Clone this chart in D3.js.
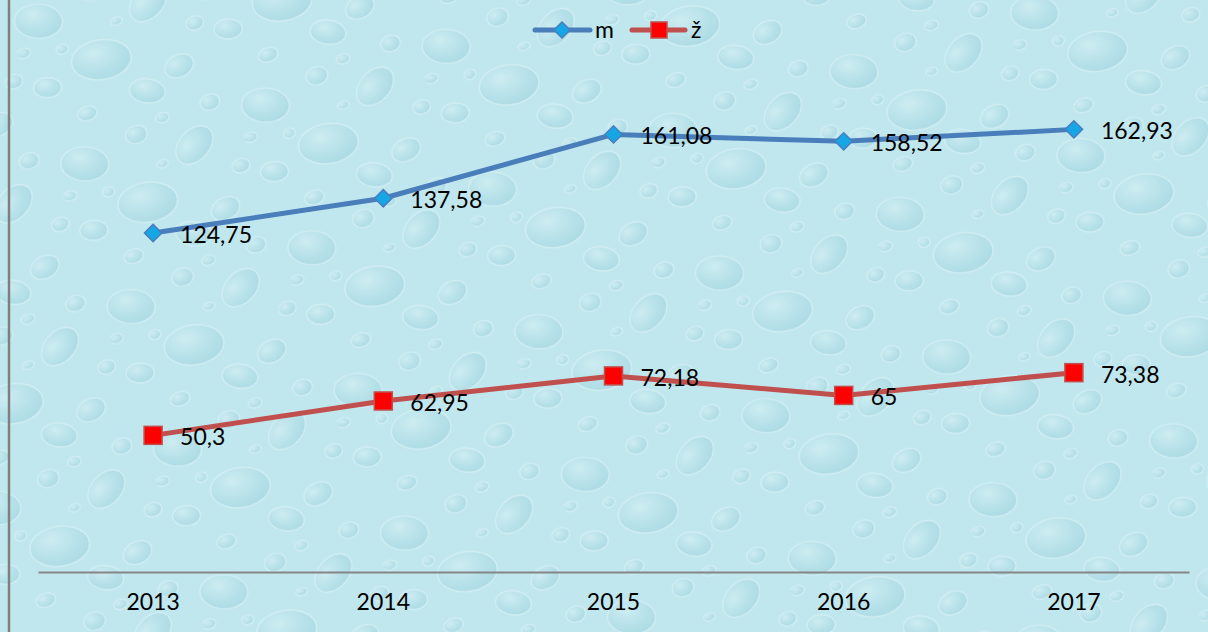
<!DOCTYPE html>
<html>
<head>
<meta charset="utf-8">
<script src="https://cdn.jsdelivr.net/npm/d3@7"></script>
<style>
  body { margin: 0; background: #fff; }
  svg text { font-family: Lato, "Open Sans", sans-serif; fill: #000; }
</style>
</head>
<body>
<div id="chart"></div>
<script>
var years = ["2013", "2014", "2015", "2016", "2017"];
var valuesM = [124.75, 137.58, 161.08, 158.52, 162.93];
var valuesZ = [50.3, 62.95, 72.18, 65, 73.38];
var seriesNames = ["m", "ž"];

var width = 1208, height = 632;
var margin = {top: 83, right: 19, bottom: 60, left: 38};

var svg = d3.select("#chart").append("svg")
	.attr("width", width)
	.attr("height", height);

// droplet texture (decoration only)
var defs = svg.append("defs");
var grad = defs.append("radialGradient").attr("id", "drop")
	.attr("cx", "38%").attr("cy", "32%").attr("r", "70%");
grad.append("stop").attr("offset", "0%").attr("stop-color", "#d6f1f5");
grad.append("stop").attr("offset", "60%").attr("stop-color", "#b0dde6");
grad.append("stop").attr("offset", "100%").attr("stop-color", "#9dd1dd");

var pat = defs.append("pattern").attr("id", "water")
	.attr("patternUnits", "userSpaceOnUse")
	.attr("patternTransform", "rotate(-18)")
	.attr("width", 190).attr("height", 150);
pat.append("rect").attr("width", 190).attr("height", 150).attr("fill", "#c0e7ee");
var drops = [
	[30, 32, 24, 17, 20], [88, 20, 11, 9, 0], [140, 48, 22, 15, -30], [18, 98, 14, 10, 15],
	[78, 88, 30, 20, 10], [150, 118, 15, 11, -10], [118, 12, 7, 5, 0], [48, 135, 10, 7, 0],
	[178, 82, 9, 7, 0], [6, 58, 7, 5, 0], [104, 56, 6, 4, 0], [44, 66, 6, 5, 0],
	[112, 132, 18, 12, 25], [168, 12, 10, 8, 0]
];
pat.selectAll("ellipse").data(drops).enter().append("ellipse")
	.attr("cx", function(d) { return d[0]; })
	.attr("cy", function(d) { return d[1]; })
	.attr("rx", function(d) { return d[2]; })
	.attr("ry", function(d) { return d[3]; })
	.attr("transform", function(d) { return "rotate(" + d[4] + "," + d[0] + "," + d[1] + ")"; })
	.attr("fill", "url(#drop)")
	.attr("stroke", "#e3f6f8")
	.attr("stroke-width", 1.2)
	.attr("opacity", 0.55);

svg.append("rect")
	.attr("x", 0).attr("y", 0)
	.attr("width", width).attr("height", height)
	.attr("fill", "url(#water)");

// left border
svg.append("line")
	.attr("x1", 9).attr("x2", 9)
	.attr("y1", 0).attr("y2", height)
	.attr("stroke", "#7f7f7f")
	.attr("stroke-width", 2.5);

var plotW = width - margin.left - margin.right;
var plotH = 572 - margin.top;

var g = svg.append("g")
	.attr("transform", "translate(" + margin.left + "," + margin.top + ")");

var x = d3.scaleBand().domain(years).range([0, plotW]);
var y = d3.scaleLinear().domain([0, 180]).range([plotH, 0]);

function cx(d, i) { return x(years[i]) + x.bandwidth() / 2; }

// AXIS
var xAxis = g.append("g")
	.attr("transform", "translate(0," + plotH + ")")
	.call(d3.axisBottom(x).tickSize(0).tickPadding(22));
xAxis.select(".domain").attr("stroke", "#868686").attr("stroke-width", 2);
xAxis.selectAll("text")
	.style("font-size", "23px")
	.style("font-family", "Lato, 'Open Sans', sans-serif");

var line = d3.line()
	.x(cx)
	.y(function(d) { return y(d); });

var blue = "#4a7ebb", red = "#c0504d";

// male
g.append("path")
	.datum(valuesM)
	.attr("d", line)
	.attr("fill", "none")
	.attr("stroke", blue)
	.attr("stroke-width", 5)
	.attr("stroke-linejoin", "round");

g.selectAll(".mk-m")
	.data(valuesM)
	.enter().append("path")
	.attr("class", "mk-m")
	.attr("d", d3.symbol().type(d3.symbolSquare).size(150))
	.attr("transform", function(d, i) { return "translate(" + cx(d, i) + "," + y(d) + ") rotate(45)"; })
	.attr("fill", "#15a6e6")
	.attr("stroke", blue)
	.attr("stroke-width", 1.5);

// female
g.append("path")
	.datum(valuesZ)
	.attr("d", line)
	.attr("fill", "none")
	.attr("stroke", red)
	.attr("stroke-width", 5)
	.attr("stroke-linejoin", "round");

g.selectAll(".mk-z")
	.data(valuesZ)
	.enter().append("rect")
	.attr("class", "mk-z")
	.attr("x", function(d, i) { return cx(d, i) - 9; })
	.attr("y", function(d) { return y(d) - 9; })
	.attr("width", 18)
	.attr("height", 18)
	.attr("fill", "#ff0000")
	.attr("stroke", red)
	.attr("stroke-width", 1.5);

// labels
function fmt(v) { return String(v).replace(".", ","); }

[valuesM, valuesZ].forEach(function(vals) {
	g.selectAll(null)
		.data(vals)
		.enter().append("text")
		.text(fmt)
		.attr("x", function(d, i) { return cx(d, i) + 27; })
		.attr("y", function(d) { return y(d) + 10; })
		.style("font-size", "23px");
});

// LEGEND
var legend = svg.append("g");
legend.append("line")
	.attr("x1", 535).attr("x2", 590).attr("y1", 30).attr("y2", 30)
	.attr("stroke", blue).attr("stroke-width", 5).attr("stroke-linecap", "round");
legend.append("path")
	.attr("d", d3.symbol().type(d3.symbolSquare).size(130))
	.attr("transform", "translate(562,30) rotate(45)")
	.attr("fill", "#15a6e6").attr("stroke", blue).attr("stroke-width", 1.5);
legend.append("text")
	.attr("x", 595).attr("y", 38)
	.style("font-size", "23px")
	.text(seriesNames[0]);

legend.append("line")
	.attr("x1", 632).attr("x2", 685).attr("y1", 30).attr("y2", 30)
	.attr("stroke", red).attr("stroke-width", 5).attr("stroke-linecap", "round");
legend.append("rect")
	.attr("x", 651).attr("y", 22).attr("width", 16).attr("height", 16)
	.attr("fill", "#ff0000").attr("stroke", red).attr("stroke-width", 1.5);
legend.append("text")
	.attr("x", 691).attr("y", 38)
	.style("font-size", "23px")
	.text(seriesNames[1]);
</script>
</body>
</html>
